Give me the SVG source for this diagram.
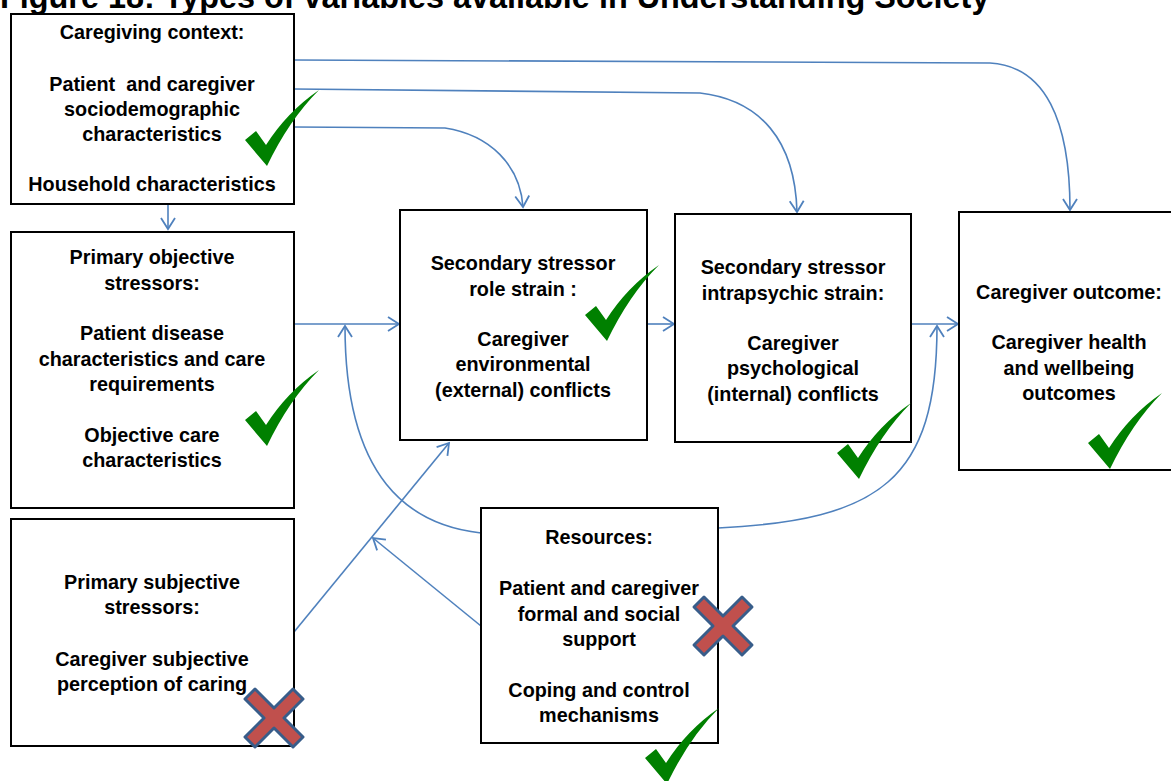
<svg xmlns="http://www.w3.org/2000/svg" width="1171" height="781" viewBox="0 0 1171 781">
<style>
.box{fill:#fff;stroke:#000;stroke-width:2}
.t{font-family:"Liberation Sans",Arial,sans-serif;font-weight:bold;font-size:19.8px;fill:#000;text-anchor:middle}
.title{font-family:"Liberation Sans",Arial,sans-serif;font-weight:bold;font-size:32.4px;fill:#000}
.c{fill:none;stroke:#4f81bd;stroke-width:1.6}
.tick{fill:#008000}
.x{fill:#c0504d;stroke:#385d8a;stroke-width:3;stroke-linejoin:round}
</style>
<defs>
<marker id="ah" markerUnits="userSpaceOnUse" markerWidth="14" markerHeight="18" refX="12" refY="8" orient="auto" viewBox="0 0 14 16">
<path d="M1,1 L12,8 L1,15" fill="none" stroke="#4f81bd" stroke-width="1.8"/>
</marker>
<path id="tk" d="M0,50 L11,41 L21,55 Q42,22 74,0 Q44,30 22,76 Z"/>
<polygon id="cx" points="0,10 10,0 29,19 48,0 58,10 39,29 58,48 48,58 29,39 10,58 0,48 19,29"/>
</defs>
<rect width="1171" height="781" fill="#fff"/>
<text class="title" x="0" y="8">Figure 18: Types of variables available in Understanding Society</text>

<g id="connectors">
<path class="c" d="M294,60 L990,63 C1045,66 1070,120 1070,210" marker-end="url(#ah)"/>
<path class="c" d="M294,89 L700,93 C760,100 795,140 797,212" marker-end="url(#ah)"/>
<path class="c" d="M294,127 L445,128 C490,135 520,165 523,207" marker-end="url(#ah)"/>
<path class="c" d="M168,204 L168,229" marker-end="url(#ah)"/>
<path class="c" d="M294,324 L399,324" marker-end="url(#ah)"/>
<path class="c" d="M481,533 C410,525 345,480 345,326" marker-end="url(#ah)"/>
<path class="c" d="M294,632 L449,443" marker-end="url(#ah)"/>
<path class="c" d="M481,626 L373,538" marker-end="url(#ah)"/>
<path class="c" d="M647,324 L674,324" marker-end="url(#ah)"/>
<path class="c" d="M911,324 L958,324" marker-end="url(#ah)"/>
<path class="c" d="M718,528 C880,520 937,480 937,326" marker-end="url(#ah)"/>
</g>

<g id="context">
<rect class="box" x="11" y="14" width="283" height="190"/>
<text class="t" x="152" y="39">Caregiving context:</text>
<text class="t" x="152" y="91">Patient&#160; and caregiver</text>
<text class="t" x="152" y="116">sociodemographic</text>
<text class="t" x="152" y="141">characteristics</text>
<text class="t" x="152" y="191">Household characteristics</text>
</g>

<g id="primary-objective">
<rect class="box" x="11" y="232" width="283" height="276"/>
<text class="t" x="152" y="264">Primary objective</text>
<text class="t" x="152" y="290">stressors:</text>
<text class="t" x="152" y="340">Patient disease</text>
<text class="t" x="152" y="366">characteristics and care</text>
<text class="t" x="152" y="391">requirements</text>
<text class="t" x="152" y="442">Objective care</text>
<text class="t" x="152" y="467">characteristics</text>
</g>

<g id="primary-subjective">
<rect class="box" x="11" y="519" width="283" height="227"/>
<text class="t" x="152" y="589">Primary subjective</text>
<text class="t" x="152" y="614">stressors:</text>
<text class="t" x="152" y="666">Caregiver subjective</text>
<text class="t" x="152" y="691">perception of caring</text>
</g>

<g id="role-strain">
<rect class="box" x="400" y="210" width="247" height="230"/>
<text class="t" x="523" y="270">Secondary stressor</text>
<text class="t" x="523" y="296">role strain :</text>
<text class="t" x="523" y="346">Caregiver</text>
<text class="t" x="523" y="371">environmental</text>
<text class="t" x="523" y="397">(external) conflicts</text>
</g>

<g id="intrapsychic">
<rect class="box" x="675" y="214" width="236" height="228"/>
<text class="t" x="793" y="274">Secondary stressor</text>
<text class="t" x="793" y="300">intrapsychic strain:</text>
<text class="t" x="793" y="350">Caregiver</text>
<text class="t" x="793" y="375">psychological</text>
<text class="t" x="793" y="401">(internal) conflicts</text>
</g>

<g id="outcome">
<rect class="box" x="959" y="212" width="220" height="258"/>
<text class="t" x="1069" y="299">Caregiver outcome:</text>
<text class="t" x="1069" y="349">Caregiver health</text>
<text class="t" x="1069" y="375">and wellbeing</text>
<text class="t" x="1069" y="400">outcomes</text>
</g>

<g id="resources">
<rect class="box" x="481" y="508" width="237" height="235"/>
<text class="t" x="599" y="544">Resources:</text>
<text class="t" x="599" y="595">Patient and caregiver</text>
<text class="t" x="599" y="621">formal and social</text>
<text class="t" x="599" y="646">support</text>
<text class="t" x="599" y="697">Coping and control</text>
<text class="t" x="599" y="722">mechanisms</text>
</g>

<g id="marks">
<use href="#tk" class="tick" x="245" y="90"/>
<use href="#tk" class="tick" x="245" y="370"/>
<use href="#tk" class="tick" x="585" y="265"/>
<use href="#tk" class="tick" x="837" y="403"/>
<use href="#tk" class="tick" x="1088" y="393"/>
<use href="#tk" class="tick" x="645" y="708"/>
<use href="#cx" class="x" x="245" y="689"/>
<use href="#cx" class="x" x="694" y="597"/>
</g>
</svg>
